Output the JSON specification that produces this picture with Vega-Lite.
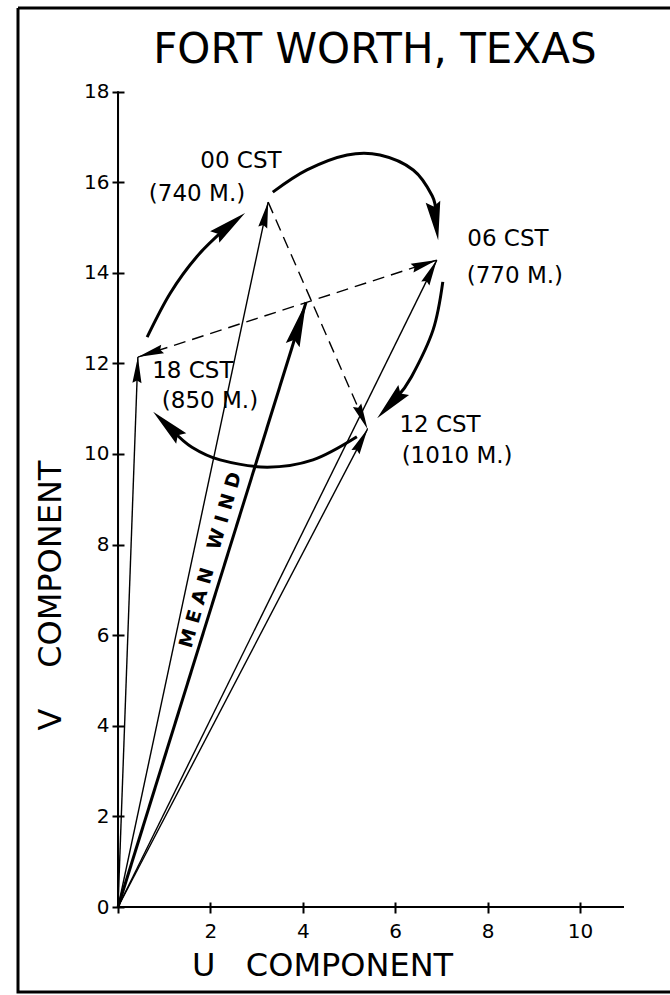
{
  "$schema": "https://vega.github.io/schema/vega-lite/v6.json",
  "width": 652,
  "height": 984,
  "autosize": {"type": "none"},
  "padding": {"left": 18, "top": 8, "right": 0, "bottom": 3},
  "background": "white",
  "config": {
    "view": {"stroke": "black", "strokeWidth": 3, "strokeDash": [652, 984, 1636, 0]},
    "font": "DejaVu Sans",
    "axis": {
      "domain": false, "grid": false, "tickColor": "black", "tickWidth": 2,
      "labelColor": "black", "labelFont": "DejaVu Sans", "labelFontSize": 20,
      "titleFont": "DejaVu Sans", "titleFontSize": 32, "titleFontWeight": "normal",
      "titleColor": "black", "labelFlush": false, "labelOverlap": false
    }
  },
  "datasets": {
    "axislines": [
      {"u": 0, "v": 0, "u2": 0, "v2": 18},
      {"u": 0, "v": 0, "u2": 10.95, "v2": 0}
    ],
    "segs": [
      {"k": "thin", "u": 0, "v": 0, "u2": 3.25, "v2": 15.56},
      {"k": "thin", "u": 0, "v": 0, "u2": 6.9, "v2": 14.28},
      {"k": "thin", "u": 0, "v": 0, "u2": 5.4, "v2": 10.55},
      {"k": "thin", "u": 0, "v": 0, "u2": 0.43, "v2": 12.14},
      {"k": "mean", "u": 0, "v": 0, "u2": 4.07, "v2": 13.35},
      {"k": "dash", "u": 0.43, "v": 12.14, "u2": 6.9, "v2": 14.28},
      {"k": "dash", "u": 3.25, "v": 15.56, "u2": 5.4, "v2": 10.55}
    ],
    "curves": [
      {"c": "A", "i": 1, "u": 0.63, "v": 12.58},
      {"c": "A", "i": 2, "u": 1.13, "v": 13.55},
      {"c": "A", "i": 3, "u": 1.7, "v": 14.35},
      {"c": "A", "i": 4, "u": 2.35, "v": 15.0},
      {"c": "B", "i": 1, "u": 3.35, "v": 15.78},
      {"c": "B", "i": 2, "u": 4.09, "v": 16.27},
      {"c": "B", "i": 3, "u": 4.96, "v": 16.6},
      {"c": "B", "i": 4, "u": 5.67, "v": 16.6},
      {"c": "B", "i": 5, "u": 6.39, "v": 16.27},
      {"c": "B", "i": 6, "u": 6.8, "v": 15.7},
      {"c": "B", "i": 7, "u": 6.88, "v": 15.3},
      {"c": "C", "i": 1, "u": 7.03, "v": 13.8},
      {"c": "C", "i": 2, "u": 6.82, "v": 12.74},
      {"c": "C", "i": 3, "u": 6.35, "v": 11.7},
      {"c": "C", "i": 4, "u": 6.02, "v": 11.23},
      {"c": "D", "i": 1, "u": 5.17, "v": 10.38},
      {"c": "D", "i": 2, "u": 4.22, "v": 9.87},
      {"c": "D", "i": 3, "u": 3.23, "v": 9.71},
      {"c": "D", "i": 4, "u": 2.21, "v": 9.87},
      {"c": "D", "i": 5, "u": 1.6, "v": 10.15},
      {"c": "D", "i": 6, "u": 1.18, "v": 10.52}
    ],
    "heads": [
      {"k": "small", "u": 3.25, "v": 15.56, "pu": 0, "pv": 0},
      {"k": "small", "u": 6.9, "v": 14.28, "pu": 0, "pv": 0},
      {"k": "small", "u": 5.4, "v": 10.55, "pu": 0, "pv": 0},
      {"k": "small", "u": 0.43, "v": 12.14, "pu": 0, "pv": 0},
      {"k": "small", "u": 0.43, "v": 12.14, "pu": 6.9, "pv": 14.28},
      {"k": "small", "u": 6.9, "v": 14.28, "pu": 0.43, "pv": 12.14},
      {"k": "small", "u": 5.4, "v": 10.55, "pu": 3.25, "pv": 15.56},
      {"k": "mean", "u": 4.07, "v": 13.35, "pu": 0, "pv": 0},
      {"k": "big", "u": 2.75, "v": 15.32, "pu": 2.18, "pv": 14.86},
      {"k": "big", "u": 6.93, "v": 14.72, "pu": 6.82, "pv": 15.55},
      {"k": "big", "u": 5.61, "v": 10.79, "pu": 6.19, "pv": 11.42},
      {"k": "big", "u": 0.76, "v": 10.93, "pu": 1.36, "pv": 10.35}
    ],
    "labels": [
      {"label": "00 CST", "u": 2.66, "v": 16.47},
      {"label": "(740 M.)", "u": 1.71, "v": 15.74},
      {"label": "06 CST", "u": 8.44, "v": 14.75},
      {"label": "(770 M.)", "u": 8.59, "v": 13.93},
      {"label": "18 CST", "u": 1.62, "v": 11.83},
      {"label": "(850 M.)", "u": 1.99, "v": 11.17},
      {"label": "12 CST", "u": 6.97, "v": 10.64},
      {"label": "(1010 M.)", "u": 7.34, "v": 9.96}
    ],
    "meanlabel": [{"label": "M E A N\u00a0\u00a0\u00a0W I N D", "u": 2.0, "v": 7.66}],
    "title": [{"label": "FORT WORTH, TEXAS", "u": 5.56, "v": 18.92}]
  },
  "encoding": {
    "x": {"field": "u", "type": "quantitative", "scale": {"domain": [-2.165, 11.948], "nice": false, "zero": false}, "axis": null},
    "y": {"field": "v", "type": "quantitative", "scale": {"domain": [-1.876, 19.845], "nice": false, "zero": false}, "axis": null}
  },
  "layer": [
    {
      "data": {"name": "axislines"},
      "mark": {"type": "rule", "color": "black", "strokeWidth": 2},
      "encoding": {
        "x": {"field": "u", "type": "quantitative", "scale": {"domain": [-2.165, 11.948], "nice": false, "zero": false},
          "axis": {"orient": "bottom", "offset": -85, "values": [0, 2, 4, 6, 8, 10], "labelExpr": "datum.value == 0 ? '' : datum.label", "tickSize": 6, "labelPadding": 8, "title": "U\u00a0\u00a0\u00a0COMPONENT", "titleX": 304, "titleY": 58, "titleBaseline": "middle", "titleAnchor": "middle"}},
        "y": {"field": "v", "type": "quantitative", "scale": {"domain": [-1.876, 19.845], "nice": false, "zero": false},
          "axis": {"orient": "left", "offset": -100, "values": [0, 2, 4, 6, 8, 10, 12, 14, 16, 18], "tickSize": 6, "labelPadding": 3, "title": "V\u00a0\u00a0\u00a0\u00a0COMPONENT", "titleX": -68, "titleY": 587, "titleBaseline": "middle", "titleAnchor": "middle", "titleAngle": -90}},
        "x2": {"field": "u2"},
        "y2": {"field": "v2"}
      }
    },
    {
      "data": {"name": "axislines"},
      "mark": {"type": "rule", "color": "black", "strokeWidth": 2},
      "encoding": {
        "x": {"field": "u", "type": "quantitative", "scale": {"domain": [-2.165, 11.948], "nice": false, "zero": false},
          "axis": {"orient": "top", "offset": -899, "values": [0, 2, 4, 6, 8, 10], "tickSize": 5, "labels": false, "title": null}},
        "y": {"field": "v", "type": "quantitative", "scale": {"domain": [-1.876, 19.845], "nice": false, "zero": false},
          "axis": {"orient": "right", "offset": -552, "values": [0, 2, 4, 6, 8, 10, 12, 14, 16, 18], "tickSize": 6, "labels": false, "title": null}},
        "x2": {"field": "u2"},
        "y2": {"field": "v2"}
      }
    },
    {
      "data": {"name": "segs"},
      "transform": [{"filter": "datum.k == 'thin'"}],
      "mark": {"type": "rule", "color": "black", "strokeWidth": 1.4},
      "encoding": {"x2": {"field": "u2"}, "y2": {"field": "v2"}}
    },
    {
      "data": {"name": "segs"},
      "transform": [{"filter": "datum.k == 'mean'"}],
      "mark": {"type": "rule", "color": "black", "strokeWidth": 3},
      "encoding": {"x2": {"field": "u2"}, "y2": {"field": "v2"}}
    },
    {
      "data": {"name": "segs"},
      "transform": [{"filter": "datum.k == 'dash'"}],
      "mark": {"type": "rule", "color": "black", "strokeWidth": 1.4, "strokeDash": [12, 7]},
      "encoding": {"x2": {"field": "u2"}, "y2": {"field": "v2"}}
    },
    {
      "data": {"name": "curves"},
      "mark": {"type": "line", "color": "black", "strokeWidth": 3, "interpolate": "cardinal"},
      "encoding": {"detail": {"field": "c"}, "order": {"field": "i", "type": "quantitative"}}
    },
    {
      "data": {"name": "heads"},
      "transform": [
        {"filter": "datum.k == 'small'"},
        {"calculate": "atan2((datum.u - datum.pu) * 46.2, (datum.v - datum.pv) * 45.3) * 180 / PI", "as": "ang"}
      ],
      "mark": {"type": "point", "shape": "M0,0L-0.35,2L0,1.8L0.35,2Z", "size": 676, "filled": true, "color": "black", "opacity": 1, "strokeWidth": 0},
      "encoding": {"angle": {"field": "ang", "type": "quantitative", "scale": null}}
    },
    {
      "data": {"name": "heads"},
      "transform": [
        {"filter": "datum.k == 'big'"},
        {"calculate": "atan2((datum.u - datum.pu) * 46.2, (datum.v - datum.pv) * 45.3) * 180 / PI", "as": "ang"}
      ],
      "mark": {"type": "point", "shape": "M0,0L-0.38,2L0,1.75L0.38,2Z", "size": 1500, "filled": true, "color": "black", "opacity": 1, "strokeWidth": 0},
      "encoding": {"angle": {"field": "ang", "type": "quantitative", "scale": null}}
    },
    {
      "data": {"name": "heads"},
      "transform": [
        {"filter": "datum.k == 'mean'"},
        {"calculate": "atan2((datum.u - datum.pu) * 46.2, (datum.v - datum.pv) * 45.3) * 180 / PI", "as": "ang"}
      ],
      "mark": {"type": "point", "shape": "M0,0L-0.32,2L0,1.75L0.32,2Z", "size": 2025, "filled": true, "color": "black", "opacity": 1, "strokeWidth": 0},
      "encoding": {"angle": {"field": "ang", "type": "quantitative", "scale": null}}
    },
    {
      "data": {"name": "labels"},
      "mark": {"type": "text", "font": "DejaVu Sans", "fontSize": 23, "color": "black", "align": "center", "baseline": "middle"},
      "encoding": {"text": {"field": "label"}}
    },
    {
      "data": {"name": "meanlabel"},
      "mark": {"type": "text", "font": "DejaVu Sans", "fontSize": 19, "fontWeight": "bold", "color": "black", "align": "center", "baseline": "middle", "angle": -74},
      "encoding": {"text": {"field": "label"}}
    },
    {
      "data": {"name": "title"},
      "mark": {"type": "text", "font": "DejaVu Sans", "fontSize": 42, "color": "black", "align": "center", "baseline": "middle"},
      "encoding": {"text": {"field": "label"}}
    }
  ],
  "resolve": {"axis": {"x": "independent", "y": "independent"}}
}
